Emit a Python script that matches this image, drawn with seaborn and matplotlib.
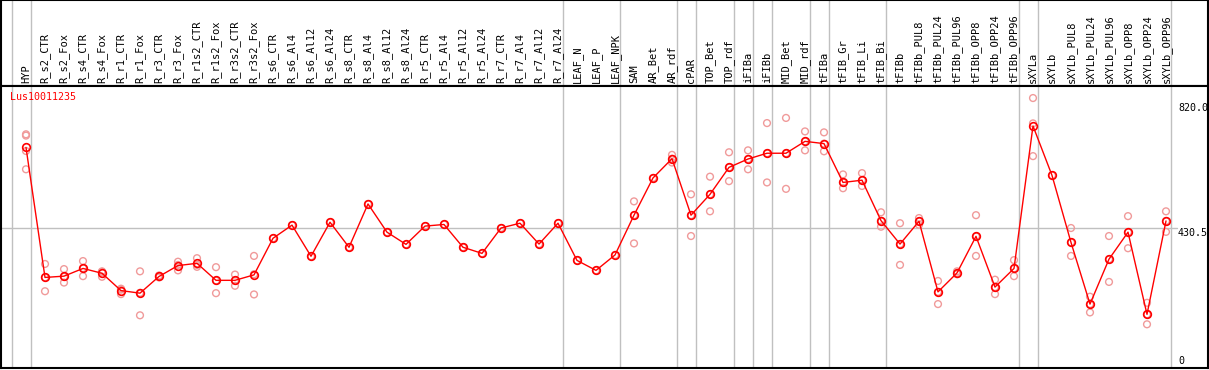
import matplotlib
matplotlib.use("Agg")
import matplotlib.pyplot as plt
import seaborn as sns
import pandas as pd

sns.set_style("white")
plt.rcParams['font.family'] = ['DejaVu Sans Mono', 'DejaVu Sans']

# --- data ---
gene = "Lus10011235"

samples = [
    "HYP",
    "R_s2_CTR", "R_s2_Fox", "R_s4_CTR", "R_s4_Fox", "R_r1_CTR", "R_r1_Fox",
    "R_r3_CTR", "R_r3_Fox", "R_r1s2_CTR", "R_r1s2_Fox", "R_r3s2_CTR", "R_r3s2_Fox",
    "R_s6_CTR", "R_s6_Al4", "R_s6_Al12", "R_s6_Al24",
    "R_s8_CTR", "R_s8_Al4", "R_s8_Al12", "R_s8_Al24",
    "R_r5_CTR", "R_r5_Al4", "R_r5_Al12", "R_r5_Al24",
    "R_r7_CTR", "R_r7_Al4", "R_r7_Al12", "R_r7_Al24",
    "LEAF_N", "LEAF_P", "LEAF_NPK",
    "SAM", "AR_Bet", "AR_rdf",
    "cPAR",
    "TOP_Bet", "TOP_rdf",
    "iFIBa",
    "iFIBb",
    "MID_Bet", "MID_rdf",
    "tFIBa",
    "tFIB_Gr", "tFIB_Li", "tFIB_Bi",
    "tFIBb", "tFIBb_PUL8", "tFIBb_PUL24", "tFIBb_PUL96", "tFIBb_OPP8", "tFIBb_OPP24", "tFIBb_OPP96",
    "sXYLa",
    "sXYLb", "sXYLb_PUL8", "sXYLb_PUL24", "sXYLb_PUL96", "sXYLb_OPP8", "sXYLb_OPP24", "sXYLb_OPP96",
]

means = [
    681,
    276, 280, 304, 289, 235, 227, 279, 313, 320, 267, 267, 284,
    398, 439, 342, 448, 370, 505, 417, 379,
    436, 441, 370, 351, 430, 445, 380, 445,
    329, 298, 346,
    470, 586, 646,
    470,
    535, 619,
    645,
    663,
    663, 700,
    693,
    572, 579, 453,
    380, 451, 231, 290, 404, 246, 304,
    748,
    594, 385, 193, 333, 417, 161, 452,
]

replicates = [
    [722, 718, 670, 613],
    [318, 276, 233], [302, 278, 260], [327, 305, 280], [295, 293, 278],
    [241, 238, 224], [295, 228, 158], [282, 279, 276], [325, 315, 298],
    [336, 315, 309], [308, 266, 227], [285, 266, 250], [343, 286, 223],
    [398], [439], [342], [448], [370], [505], [417], [379],
    [436], [441], [370], [351], [430], [445], [380], [445],
    [329], [298], [346],
    [513, 470, 382], [586], [658, 646, 634],
    [535, 470, 405],
    [590, 535, 482], [666, 619, 576],
    [672, 645, 613],
    [757, 663, 572],
    [773, 663, 552], [731, 700, 672],
    [728, 693, 669],
    [597, 572, 554], [601, 579, 561], [479, 453, 434],
    [445, 380, 315], [461, 451, 440], [265, 231, 193], [295, 290, 286],
    [470, 404, 343], [269, 246, 224], [330, 304, 280],
    [835, 756, 654],
    [594], [430, 385, 343], [216, 193, 167], [405, 333, 262],
    [467, 417, 367], [197, 161, 130], [482, 452, 418],
]

# index of the last sample in each group (a separator follows it)
group_ends = [-1, 0, 28, 31, 34, 35, 37, 38, 39, 41, 42, 45, 52, 53, 60]

y_ticks = [820.0, 430.5, 0]
y_tick_labels = ["820.0", "430.5", "0"]

df_mean = pd.DataFrame({"pos": range(len(samples)), "sample": samples, "value": means})
df_rep = pd.DataFrame(
    [(i, v) for i, reps in enumerate(replicates) for v in reps],
    columns=["pos", "value"],
)

W, H = 1209, 370
fig = plt.figure(figsize=(W / 100, H / 100), dpi=100)
ax_top = fig.add_axes([1 / W, (H - 86) / H, (W - 2) / W, 86 / H])
ax = fig.add_axes([1 / W, 2 / H, (W - 2) / W, (368 - 86) / H])

xlim = ((1 - 26) / 19, (1208 - 26) / 19)
for a in (ax, ax_top):
    a.set_xlim(*xlim)
    a.set_xticks([])
    a.set_yticks([])
    for s in a.spines.values():
        s.set_color("black")
        s.set_linewidth(1.5)
    for g in group_ends:
        a.axvline(g + 0.24, color="#c0c0c0", lw=1, zorder=0)
ax_top.set_ylim(0, 1)
ax.set_ylim(-6.2, 872.5)

# sample labels in the header band
for i, name in enumerate(samples):
    ax_top.text(i, 0.035, name, rotation=90, ha="center", va="bottom",
                fontsize=7.5, color="black")

# horizontal reference line at the mid value
ax.axhline(430.5, xmin=0, xmax=(1177 - 1) / (W - 2), color="#c0c0c0", lw=1, zorder=0)

# replicates
sns.scatterplot(data=df_rep, x="pos", y="value", ax=ax, color="#f09a9a",
                s=24, linewidth=1.0, zorder=2, legend=False)
ax.collections[-1].set_facecolor("none")
ax.collections[-1].set_edgecolor("#f09a9a")

# means
sns.lineplot(data=df_mean, x="pos", y="value", ax=ax, color="red", lw=1,
             marker="o", markersize=5.5, markerfacecolor="none",
             markeredgecolor="red", markeredgewidth=1.2, zorder=3)

ax.set_xlabel("")
ax.set_ylabel("")
ax.set_xlim(*xlim)

# value labels on the right
lab_x = (1178 - 26) / 19
for v, t in zip(y_ticks, y_tick_labels):
    ax.text(lab_x, v, t, ha="left", va="bottom" if v == 0 else "top",
            fontsize=7.2, color="black")

ax.text(9 / (W - 2), 1 - 11.5 / 282, gene, transform=ax.transAxes,
        ha="left", va="center", fontsize=7.2, color="red")

fig.savefig("out.png", dpi=100)
plt.close(fig)
